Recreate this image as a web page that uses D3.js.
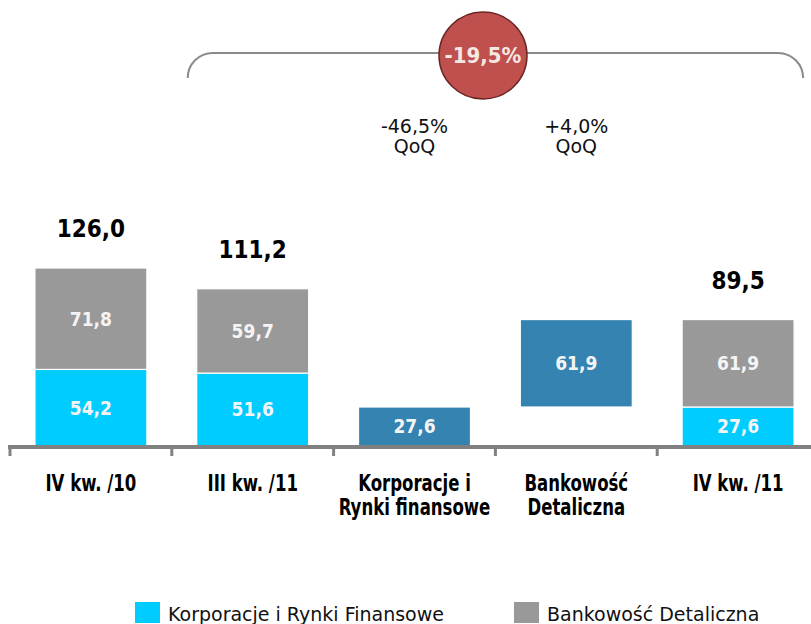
<!DOCTYPE html>
<html>
<head>
<meta charset="utf-8">
<script src="https://cdn.jsdelivr.net/npm/d3@7"></script>
<style>
  html, body { margin: 0; padding: 0; background: #fff; }
  svg { display: block; }
</style>
</head>
<body>
<div id="chart"></div>
<script>
/* bridge chart: quarterly result split into corporate / retail */

const categories = [
  ["IV kw. /10"],
  ["III kw. /11"],
  ["Korporacje i", "Rynki finansowe"],
  ["Bankowość", "Detaliczna"],
  ["IV kw. /11"]
];
const corporate = [54.2, 51.6, null, null, 27.6];   // cyan segment
const retail    = [71.8, 59.7, null, null, 61.9];   // gray segment
const bridge    = [null, null, 27.6, 61.9, null];   // waterfall steps
const totals    = [126.0, 111.2, null, null, 89.5];
const qoqLabels = [null, null, "-46,5%", "+4,0%", null];
const overallChange = "-19,5%";
const legendItems = ["Korporacje i Rynki Finansowe", "Bankowość Detaliczna"];

const W = 811, H = 624;
const C_CORP = "#00ccff", C_RET = "#999999", C_BRIDGE = "#3583b0";
const FONT = "'DejaVu Sans', Verdana, sans-serif";
const FONT_C = "'DejaVu Sans Condensed', 'DejaVu Sans', sans-serif";

const pl = d3.formatLocale({decimal: ",", thousands: " ", grouping: [3], currency: ["", " zł"]});
const fmt = pl.format(".1f");

const svg = d3.select("#chart").append("svg")
  .attr("width", W).attr("height", H);

const idx = d3.range(categories.length);
const x = d3.scaleBand().domain(idx).range([10, 819]).paddingInner(0.308).paddingOuter(0.154);
const y = d3.scaleLinear().domain([0, 126]).range([446, 268]);
const cx = i => x(i) + x.bandwidth() / 2;

/* build segments */
const segs = [];
let run = 0;
idx.forEach(i => {
  if (corporate[i] != null) segs.push({i, v0: 0, v1: corporate[i], c: C_CORP, v: corporate[i]});
  if (retail[i] != null) segs.push({i, v0: corporate[i] || 0, v1: (corporate[i] || 0) + retail[i], c: C_RET, v: retail[i]});
  if (bridge[i] != null) { segs.push({i, v0: run, v1: run + bridge[i], c: C_BRIDGE, v: bridge[i]}); run += bridge[i]; }
});

const g = svg.append("g");

g.selectAll("rect.seg").data(segs).join("rect")
  .attr("class", "seg")
  .attr("x", d => x(d.i))
  .attr("width", x.bandwidth())
  .attr("y", d => y(d.v1))
  .attr("height", d => y(d.v0) - y(d.v1))
  .attr("fill", d => d.c)
  .attr("stroke", "#fff")
  .attr("stroke-width", 1.2);

g.selectAll("text.seg").data(segs).join("text")
  .attr("class", "seg")
  .attr("x", d => cx(d.i))
  .attr("y", d => (y(d.v0) + y(d.v1)) / 2)
  .attr("dy", "0.36em")
  .attr("text-anchor", "middle")
  .attr("fill", "#f4f4f4")
  .style("font-family", FONT_C)
  .style("font-weight", "bold")
  .style("font-size", "19px")
  .text(d => fmt(d.v));

/* totals above stacks */
g.selectAll("text.tot").data(idx.filter(i => totals[i] != null)).join("text")
  .attr("class", "tot")
  .attr("x", i => cx(i))
  .attr("y", i => y(totals[i]) - 31)
  .attr("text-anchor", "middle")
  .attr("fill", "#000")
  .style("font-family", FONT_C)
  .style("font-weight", "bold")
  .style("font-size", "24px")
  .text(i => fmt(totals[i]));

/* axis */
const axisY = 447;
svg.append("line")
  .attr("x1", 8).attr("x2", W).attr("y1", axisY).attr("y2", axisY)
  .attr("stroke", "#808080").attr("stroke-width", 4);
svg.selectAll("line.tick").data(idx).join("line")
  .attr("class", "tick")
  .attr("x1", i => x(i) - x.step() * 0.154).attr("x2", i => x(i) - x.step() * 0.154)
  .attr("y1", axisY).attr("y2", axisY + 9)
  .attr("stroke", "#808080").attr("stroke-width", 3);

/* category labels, horizontally squeezed like the original */
const cat = svg.selectAll("text.cat").data(idx).join("text")
  .attr("class", "cat")
  .attr("transform", i => `translate(${cx(i)},491) scale(0.8,1)`)
  .attr("text-anchor", "middle")
  .attr("fill", "#000")
  .style("font-family", FONT_C)
  .style("font-weight", "bold")
  .style("font-size", "23px");
cat.selectAll("tspan").data(i => categories[i]).join("tspan")
  .attr("x", 0)
  .attr("dy", (d, k) => k === 0 ? 0 : 24)
  .text(d => d);

/* QoQ labels */
const qq = svg.selectAll("text.qoq").data(idx.filter(i => qoqLabels[i])).join("text")
  .attr("class", "qoq")
  .attr("x", i => cx(i))
  .attr("y", 133)
  .attr("text-anchor", "middle")
  .attr("fill", "#111")
  .style("font-family", FONT)
  .style("font-size", "19px");
qq.append("tspan").attr("x", i => cx(i)).text(i => qoqLabels[i]);
qq.append("tspan").attr("x", i => cx(i)).attr("dy", 20).text("QoQ");

/* bracket + bubble */
const bx0 = x(1) - 9, bx1 = x(4) + x.bandwidth() + 9, by = 53, r = 25;
svg.append("path")
  .attr("d", `M${bx0},${by + r} A${r},${r} 0 0 1 ${bx0 + r},${by} H${bx1 - r} A${r},${r} 0 0 1 ${bx1},${by + r}`)
  .attr("fill", "none").attr("stroke", "#8a8a8a").attr("stroke-width", 2);

svg.append("ellipse")
  .attr("cx", 483).attr("cy", 55.5).attr("rx", 44).attr("ry", 43.5)
  .attr("fill", "#c0504d").attr("stroke", "#6b2624").attr("stroke-width", 1.5);
svg.append("text")
  .attr("x", 483).attr("y", 55.5).attr("dy", "0.36em")
  .attr("text-anchor", "middle")
  .attr("fill", "#f3e9e2")
  .style("font-family", FONT_C)
  .style("font-weight", "bold")
  .style("font-size", "22px")
  .text(overallChange);

/* legend */
const legColors = [C_CORP, C_RET];
const legX = [135, 514];
const leg = svg.selectAll("g.leg").data(legendItems).join("g")
  .attr("class", "leg")
  .attr("transform", (d, k) => `translate(${legX[k]},602)`);
leg.append("rect").attr("width", 25).attr("height", 21).attr("fill", (d, k) => legColors[k]);
leg.append("text")
  .attr("x", 33).attr("y", 19)
  .attr("fill", "#111")
  .style("font-family", FONT)
  .style("font-size", "19px")
  .text(d => d);
</script>
</body>
</html>
